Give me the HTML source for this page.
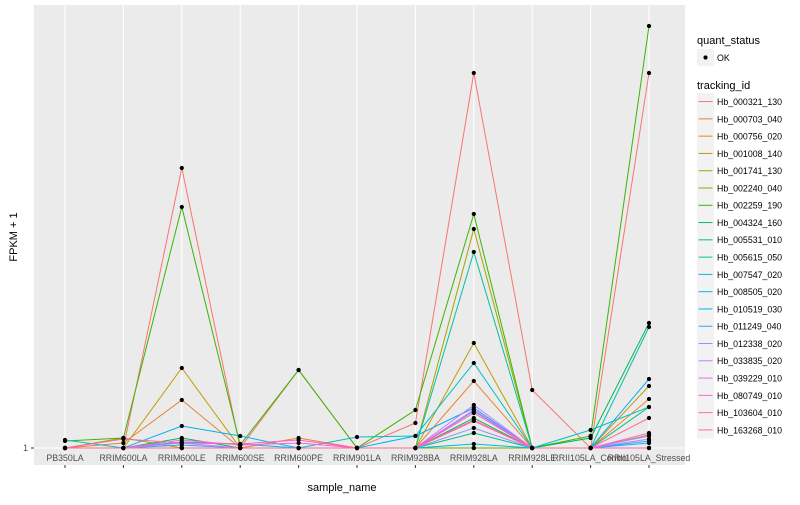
<!DOCTYPE html>
<html><head><meta charset="utf-8"><style>
body{margin:0;background:#fff;font-family:"Liberation Sans",sans-serif}
svg text{font-family:"Liberation Sans",sans-serif}
</style></head><body>
<svg id="chart" width="800" height="500" xmlns="http://www.w3.org/2000/svg">
<rect x="34" y="5" width="651" height="460" fill="#ebebeb"/>
<g id="grid"></g><g id="lines"></g><g id="points"></g><g id="axes"></g><g id="legend"></g>
<text x="342" y="491" font-size="11" text-anchor="middle" fill="#000">sample_name</text>
<text transform="translate(17,237) rotate(-90)" font-size="11" text-anchor="middle" fill="#000">FPKM + 1</text>
</svg>
<script>
const categories = ["PB350LA","RRIM600LA","RRIM600LE","RRIM600SE","RRIM600PE","RRIM901LA","RRIM928BA","RRIM928LA","RRIM928LE","RRII105LA_Control","RRII105LA_Stressed"];
const trackingIds = ["Hb_000321_130","Hb_000703_040","Hb_000756_020","Hb_001008_140","Hb_001741_130","Hb_002240_040","Hb_002259_190","Hb_004324_160","Hb_005531_010","Hb_005615_050","Hb_007547_020","Hb_008505_020","Hb_010519_030","Hb_011249_040","Hb_012338_020","Hb_033835_020","Hb_039229_010","Hb_080749_010","Hb_103604_010","Hb_163268_010"];
const colors = ["#F8766D","#EA8331","#D89000","#C09B00","#A3A500","#7CAE00","#39B600","#00BB4E","#00BF7D","#00C1A3","#00BFC4","#00BAE0","#00B0F6","#35A2FF","#9590FF","#C77CFF","#E76BF3","#FA62DB","#FF62BC","#FF6C91"];
const s0 = [1,1,281,1,79,1,26,376,59,1,376];
const s1 = [1,6,49,1,11,1,1,68,1,1,50];
const s2 = [1,1,1,1,1,1,1,1,1,1,14];
const s3 = [1,1,81,1,1,1,1,106,1,1,63];
const s4 = [1,11,1,1,1,1,1,220,1,1,1];
const s5 = [1,1,1,1,1,1,1,1,1,1,1];
const s6 = [8,11,242,4,79,1,39,235,1,13,423];
const s7 = [1,1,11,1,1,1,1,31,1,11,126];
const s8 = [1,1,1,1,1,1,1,16,1,1,42];
const s9 = [1,1,1,1,1,1,1,197,1,1,122];
const s10 = [9,1,1,1,1,12,13,86,1,19,42];
const s11 = [1,1,7,5,1,1,1,5,1,1,6];
const s12 = [1,1,23,13,1,1,13,41,1,1,70];
const s13 = [1,1,4,1,1,1,1,38,1,1,8];
const s14 = [1,1,1,1,1,1,1,21,1,1,13];
const s15 = [1,1,6,1,1,1,1,44,1,1,10];
const s16 = [1,1,1,1,1,1,1,39,1,1,1];
const s17 = [1,1,9,4,6,1,1,29,1,1,16];
const s18 = [1,10,6,5,9,1,1,36,1,1,1];
const s19 = [1,1,1,1,1,1,1,28,1,1,31];
const series = [s0,s1,s2,s3,s4,s5,s6,s7,s8,s9,s10,s11,s12,s13,s14,s15,s16,s17,s18,s19];
const yTicks = [1];

const NS="http://www.w3.org/2000/svg";
function xScale(i){return 65+i*58.4;}
function yScale(v){return 448-(v-1)*1.0;}
function mk(tag,attrs,parent){const e=document.createElementNS(NS,tag);for(const k in attrs)e.setAttribute(k,attrs[k]);parent.appendChild(e);return e;}
const grid=document.getElementById('grid'),lines=document.getElementById('lines'),pts=document.getElementById('points'),axes=document.getElementById('axes'),leg=document.getElementById('legend');
categories.forEach((c,i)=>{
  const g=mk('line',{x1:xScale(i),x2:xScale(i),y1:5,y2:465,stroke:'#fff','stroke-width':1.1},grid);
  
  
  const tk=mk('line',{x1:xScale(i),x2:xScale(i),y1:465,y2:468,stroke:'#333','stroke-width':1},axes);
  
  
  const t=mk('text',{x:xScale(i),y:461,'font-size':8.8,'text-anchor':'middle',fill:'#4d4d4d'},axes);
  t.textContent=c;
  
  
});
yTicks.forEach(v=>{
  const g=mk('line',{x1:34,x2:685,y1:yScale(v),y2:yScale(v),stroke:'#fff','stroke-width':1.1},grid);
  
  
  const tk=mk('line',{x1:31,x2:34,y1:yScale(v),y2:yScale(v),stroke:'#333','stroke-width':1},axes);
  
  
  const t=mk('text',{x:28,y:yScale(v)+3,'font-size':8.8,'text-anchor':'end',fill:'#4d4d4d'},axes);
  t.textContent=String(v);
  
  
});
series.forEach((s,k)=>{
  const p=mk('polyline',{points:s.map((v,i)=>xScale(i)+','+yScale(v)).join(' '),fill:'none',stroke:colors[k],'stroke-width':1},lines);
  
  
  s.forEach((v,i)=>{
    const c=mk('circle',{cx:xScale(i),cy:yScale(v),r:2.1,fill:'#000'},pts);
    
    
  });
});
let t=mk('text',{x:697,y:44,'font-size':11,fill:'#000'},leg);t.textContent='quant_status';


let r=mk('rect',{x:697,y:49,width:17,height:17,fill:'#f2f2f2'},leg);


let c=mk('circle',{cx:705.5,cy:57.5,r:2.1,fill:'#000'},leg);


t=mk('text',{x:717,y:61,'font-size':8.8,fill:'#000'},leg);t.textContent='OK';


t=mk('text',{x:697,y:89,'font-size':11,fill:'#000'},leg);t.textContent='tracking_id';


trackingIds.forEach((id,k)=>{
  const y=93+k*17.28;
  const b=mk('rect',{x:697,y:y,width:17,height:17.28,fill:'#f2f2f2'},leg);
  
  
  const l=mk('line',{x1:698.5,x2:712.5,y1:y+8.6,y2:y+8.6,stroke:colors[k],'stroke-width':1},leg);
  
  
  const tx=mk('text',{x:717,y:y+12,'font-size':8.8,fill:'#000'},leg);
  tx.textContent=id;
  
  
});
</script>
</body></html>
